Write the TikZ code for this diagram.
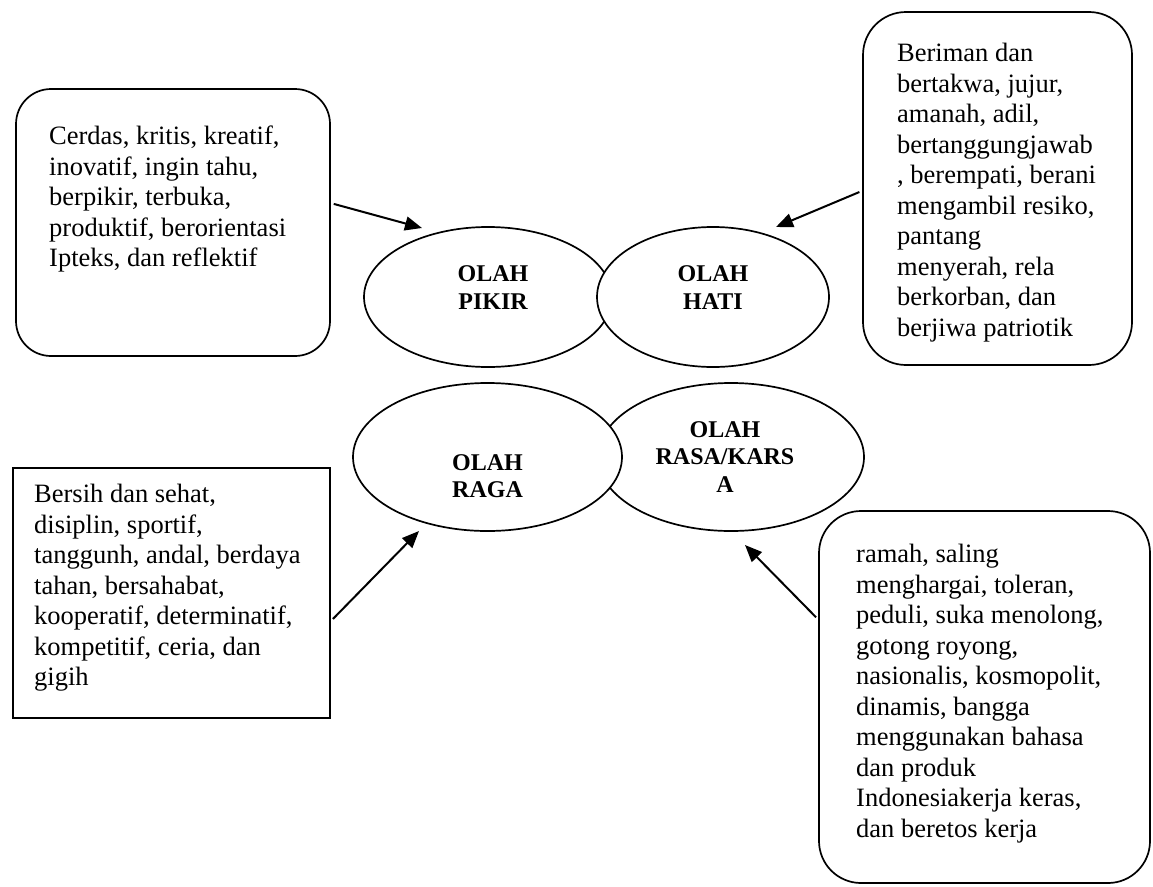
\documentclass[tikz,border=0pt]{standalone}
\usepackage{fontspec}
\setmainfont{Liberation Serif}
\usepackage{tikz}
\usetikzlibrary{arrows.meta,positioning,shapes.geometric,calc}

\begin{document}
\begin{tikzpicture}[
  x=1pt, y=-1pt,
  kotak/.style={rectangle,draw=black,line width=1.7pt,fill=white,inner sep=0pt},
  isi/.style={anchor=north west,inner sep=0pt,align=left,
              font=\fontsize{26.5}{30.5}\selectfont},
  olah/.style={ellipse,draw=black,line width=1.7pt,fill=white,inner sep=0pt},
  judul/.style={align=center,inner sep=0pt,font=\fontsize{24}{27.5}\selectfont\bfseries},
  panah/.style={-{Triangle[length=17pt,width=14pt]},line width=2pt,shorten <=3pt}
]
  \useasboundingbox (0,0) rectangle (1153,886);

  % kotak keterangan
  \node[kotak, rounded corners=35pt, minimum width=314pt, minimum height=267pt] (kpikir) at (173,222.5) {};
  \node[isi] (tpikir) at (49,126) {Cerdas, kritis, kreatif,\\ inovatif, ingin tahu,\\ berpikir, terbuka,\\ produktif, berorientasi\\ Ipteks, dan reflektif};

  \node[kotak, rounded corners=43pt, minimum width=269pt, minimum height=353pt] (khati) at (997.5,188.5) {};
  \node[isi] (thati) at (897,43) {Beriman dan\\ bertakwa, jujur,\\ amanah, adil,\\ bertanggungjawab\\ , berempati, berani\\ mengambil resiko,\\ pantang\\ menyerah, rela\\ berkorban, dan\\ berjiwa patriotik};

  \node[kotak, minimum width=317pt, minimum height=250pt] (kraga) at (171.5,593) {};
  \node[isi] (traga) at (34,484) {Bersih dan sehat,\\ disiplin, sportif,\\ tanggunh, andal, berdaya\\ tahan, bersahabat,\\ kooperatif, determinatif,\\ kompetitif, ceria, dan\\ gigih};

  \node[kotak, rounded corners=42pt, minimum width=331pt, minimum height=372pt] (krasa) at (984.5,697) {};
  \node[isi] (trasa) at (856,544) {ramah, saling\\ menghargai, toleran,\\ peduli, suka menolong,\\ gotong royong,\\ nasionalis, kosmopolit,\\ dinamis, bangga\\ menggunakan bahasa\\ dan produk\\ Indonesiakerja keras,\\ dan beretos kerja};

  % empat olah
  \node[olah, minimum width=248pt, minimum height=140pt,
        label={[judul,xshift=5pt,yshift=9.5pt]center:{OLAH\\PIKIR}}] (pikir) at (488,297) {};
  \node[olah, minimum width=232pt, minimum height=140pt,
        label={[judul,yshift=9.5pt]center:{OLAH\\HATI}}] (hati) at (713,297) {};
  \node[olah, minimum width=266pt, minimum height=148pt,
        label={[judul,xshift=-6pt]center:{OLAH\\RASA/KARS\\A}}] (rasa) at (731,457) {};
  \node[olah, minimum width=269pt, minimum height=148pt,
        label={[judul,yshift=-19pt]center:{OLAH\\RAGA}}] (raga) at (487.5,457) {};

  \coordinate (ujungpikir) at (422,228);
  \coordinate (ujunghati) at (776,227);
  \coordinate (ujungraga) at (419,531);
  \coordinate (ujungrasa) at (745,545);

  \draw[panah] (kpikir.7)     -- (ujungpikir);
  \draw[panah] (khati.181.9)  -- (ujunghati);
  \draw[panah] (kraga.-10)    -- (ujungraga);
  \draw[panah] (krasa.155.6)  -- (ujungrasa);
\end{tikzpicture}
\end{document}
